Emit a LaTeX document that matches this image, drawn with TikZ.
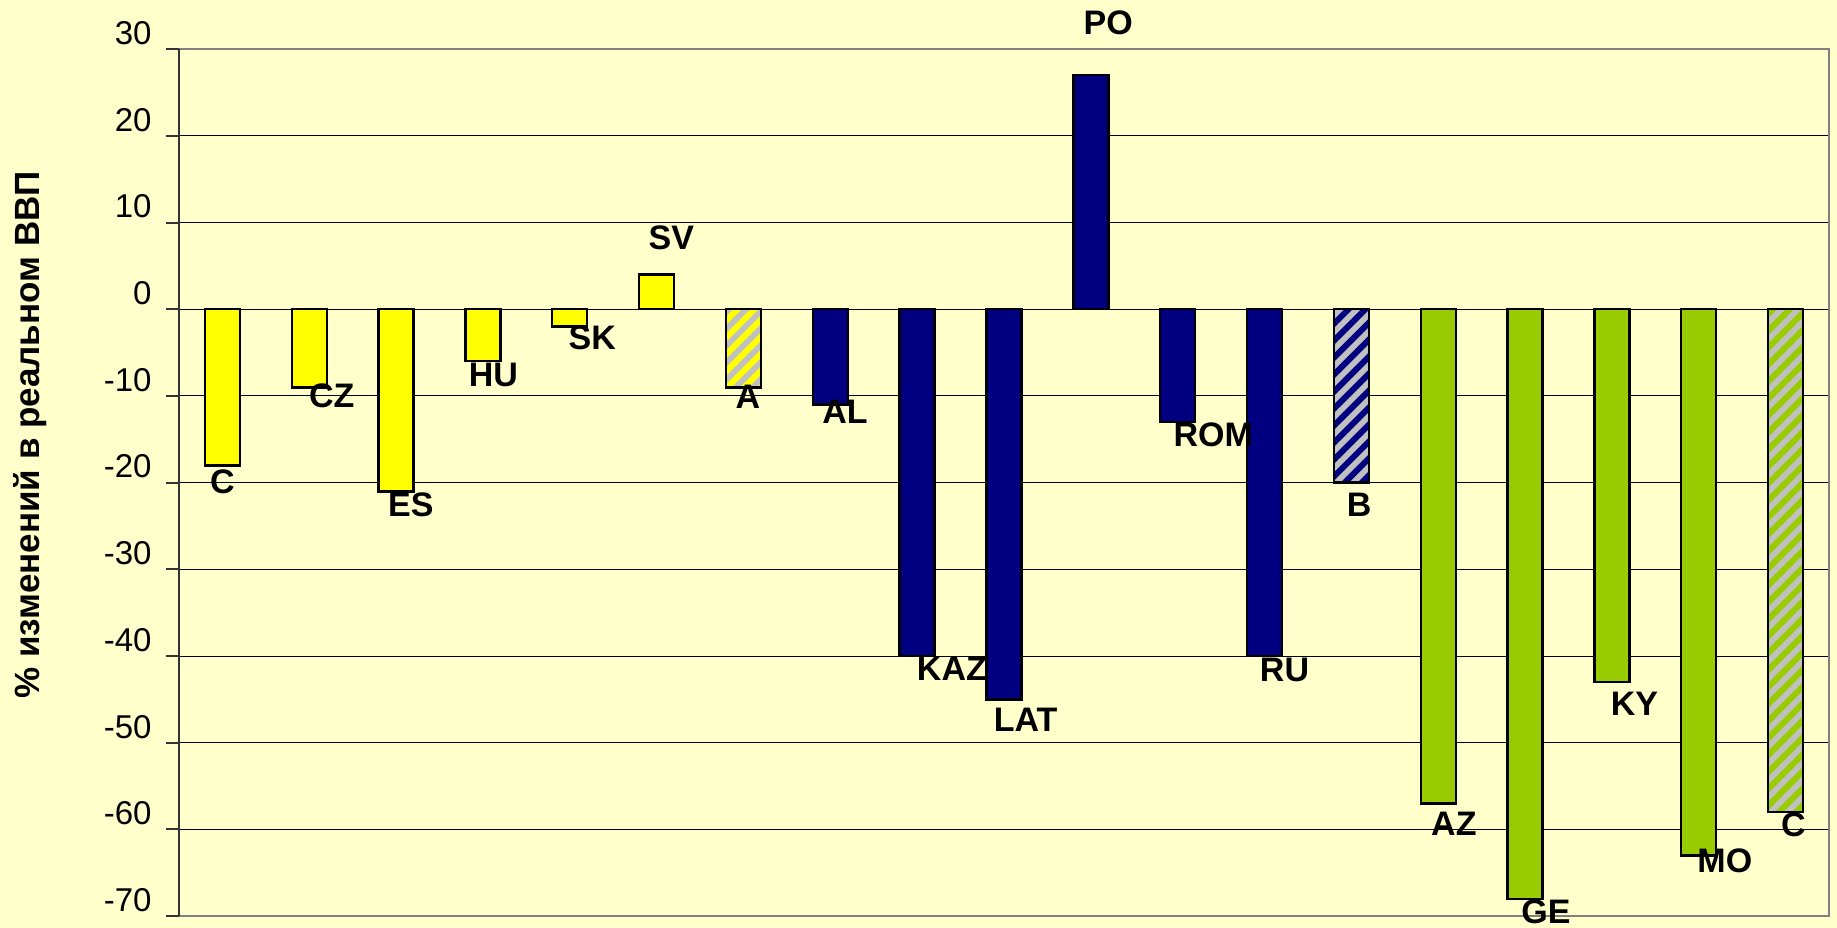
\documentclass[tikz,border=0pt]{standalone}
\usepackage{fontspec}
\setmainfont{Liberation Sans}
\usepackage{tikz}
\usetikzlibrary{patterns.meta}

\definecolor{chartbg}{HTML}{FFFFCC}
\definecolor{ybar}{HTML}{FFFF00}
\definecolor{nbar}{HTML}{000080}
\definecolor{gbar}{HTML}{99CC00}
\definecolor{hatchgray}{HTML}{C0C0C0}
\definecolor{framegray}{HTML}{808080}

\begin{document}
\begin{tikzpicture}[x=43.42pt,y=4.335pt,
                    grid line/.style={black,line width=0.5pt},
                    frame line/.style={framegray,line width=1pt},
                    axis line/.style={black!80,line width=1pt},
                    bar/.style={draw=black,line width=1.2pt},
                    hatched/.style={bar,preaction={fill=hatchgray},
                      pattern={Lines[angle=45,distance=6pt,line width=3pt]}},
                    tick label/.style={anchor=east,inner sep=0pt,
                      font=\fontsize{16.5}{18}\selectfont},
                    country/.style={inner sep=0pt,
                      font=\fontsize{17}{19}\selectfont\bfseries}]

  % background and fixed margins
  \fill[chartbg] (-2.061,-71.36) rectangle (19.092,35.67);
  \useasboundingbox (-2.061,-71.36) rectangle (19.092,35.67);

  % grid, frame and axis
  \foreach \v in {-60,-50,...,20}
    \draw[grid line] (0,\v) -- (19,\v);
  \draw[frame line] (0,30) -- (19,30) -- (19,-70) -- (0,-70);
  \draw[axis line] (0,30) -- (0,-70);
  \foreach \v in {-70,-60,...,30} {
    \draw[axis line] (-0.15,\v) -- (0,\v);
    \node[tick label] (t\v) at (-0.311,\v+1.85) {\v};
  }

  \node[rotate=90,font=\fontsize{17.5}{20}\selectfont\bfseries]
    (ytitle) at (-1.72,-14.5) {\% изменений в реальном ВВП};

  % plain bars
  \foreach \i/\val/\col in {1/-18/ybar,2/-9/ybar,3/-21/ybar,4/-6/ybar,
                            5/-2/ybar,6/4/ybar,
                            8/-11/nbar,9/-40/nbar,10/-45/nbar,11/27/nbar,
                            12/-13/nbar,13/-40/nbar,
                            15/-57/gbar,16/-68/gbar,17/-43/gbar,18/-63/gbar}
    \draw[bar,fill=\col] (\i-0.7015,0) rectangle (\i-0.2985,\val);

  % hatched bars
  \foreach \i/\val/\col in {7/-9/ybar,14/-20/nbar,19/-58/gbar}
    \draw[hatched,pattern color=\col] (\i-0.7015,0) rectangle (\i-0.2985,\val);

  % country labels
  \foreach \name/\txt/\lx/\ly in {c1/C/0.50/-19.86, cz/CZ/1.76/-10.0,
      es/ES/2.67/-22.57, hu/HU/3.62/-7.58, sk/SK/4.76/-3.25,
      sv/SV/5.67/8.28, a/A/6.55/-10.06, al/AL/7.67/-11.85,
      kaz/KAZ/8.90/-41.43, lat/LAT/9.75/-47.31, po/PO/10.70/33.08,
      rom/ROM/11.91/-14.44, ru/RU/12.73/-41.55, b/B/13.59/-22.57,
      az/AZ/14.68/-59.37, ge/GE/15.74/-69.52, ky/KY/16.76/-45.52,
      mo/MO/17.80/-63.57, c19/C/18.59/-59.42}
    \node[country] (\name) at (\lx,\ly) {\txt};

\end{tikzpicture}
\end{document}
